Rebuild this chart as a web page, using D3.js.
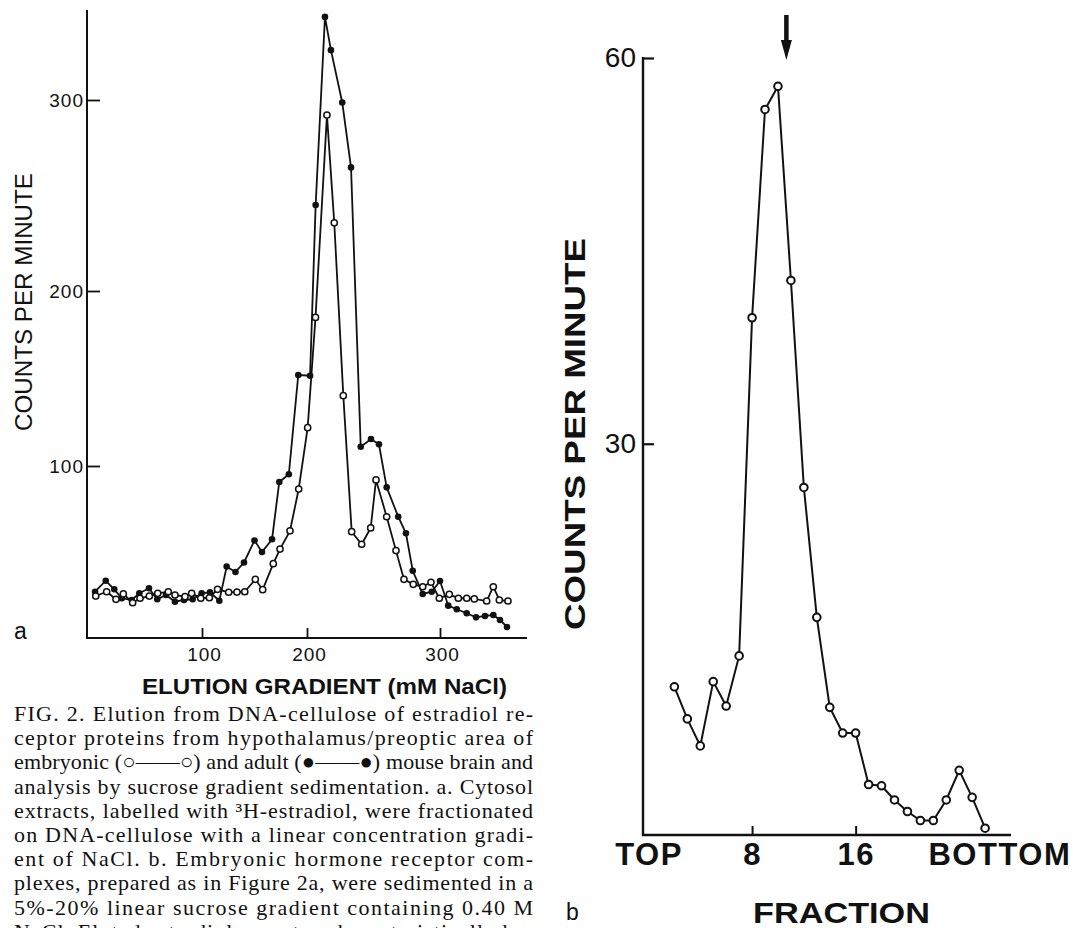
<!DOCTYPE html>
<html><head><meta charset="utf-8">
<title>Fig. 2 - estradiol receptor elution</title>
<script src="https://d3js.org/d3.v7.min.js"></script>
<style>
  body { margin: 0; background: #fff; }
  svg text { font-family: "Liberation Sans", Arial, sans-serif; fill: #111; }
  .caption { font-family: "Liberation Serif", "Times New Roman", serif; font-size: 22px; }
</style>
</head>
<body>
<svg id="fig" width="1077" height="928"></svg>

<script>
// ---- panel a: elution from DNA-cellulose (mM NaCl vs counts per minute) ----
const gradientEmbryonic = [7.6, 17.1, 25.2, 31.6, 39.7, 46.1, 54.2, 61.5, 70.7, 76.5, 85.2, 91.0, 98.9,
  107.0, 114.8, 125.4, 133.3, 140.7, 150.8, 157.8, 167.9, 174.3, 183.8, 192.1, 200.5, 206.4, 215.0,
  220.5, 227.3, 233.6, 241.1, 247.9, 251.9, 259.9, 266.9, 272.9, 279.9, 287.0, 293.2, 299.5, 307.0,
  313.8, 320.1, 325.8, 335.1, 340.1, 344.6, 351.1];
const countsEmbryonic = [24.4, 26.9, 22.5, 25.6, 20.5, 23.1, 24.4, 26.0, 26.9, 25.0, 24.0, 26.0, 23.1,
  23.4, 28.3, 26.6, 26.7, 26.9, 34.1, 28.1, 43.2, 51.7, 62.3, 86.6, 121.9, 184.9, 292.1,
  235.7, 140.2, 61.8, 54.5, 64.0, 91.9, 70.5, 50.8, 34.1, 31.2, 29.8, 32.4, 23.1, 25.4,
  23.1, 23.1, 22.7, 21.5, 29.8, 22.1, 21.5];

const gradientAdult = [7.0, 16.3, 23.7, 30.2, 38.9, 45.5, 53.9, 61.1, 68.7, 76.5, 84.3, 91.9, 99.7,
  107.6, 116.5, 123.5, 131.9, 140.0, 150.0, 157.1, 166.7, 173.6, 182.7, 191.7, 202.3, 206.5, 213.5,
  218.0, 226.5, 233.1, 240.4, 248.1, 254.1, 259.9, 268.6, 274.4, 279.5, 287.0, 293.8, 300.0, 306.2,
  312.6, 320.1, 327.1, 333.8, 340.1, 345.1, 350.4];
const countsAdult = [26.9, 33.3, 28.3, 23.1, 22.1, 26.0, 28.9, 22.5, 25.0, 21.1, 22.1, 22.5, 26.0,
  26.6, 21.7, 41.5, 38.4, 43.9, 56.7, 50.0, 57.4, 90.7, 95.2, 152.0, 151.6, 245.0, 343.5,
  326.1, 298.7, 264.7, 111.0, 115.4, 112.4, 87.6, 70.5, 60.9, 39.1, 25.6, 26.9, 33.1, 18.8,
  16.7, 14.4, 12.0, 12.8, 13.4, 10.5, 6.4];

const gradientTicks = [100, 200, 300];
const countTicksA = [100, 200, 300];

// ---- panel b: sucrose gradient sedimentation (fraction vs counts per minute) ----
const fractions = [2, 3, 4, 5, 6, 7, 8, 9, 10, 11, 12, 13, 14, 15, 16, 17, 18, 19, 20, 21, 22, 23, 24, 25, 26];
const fractionCounts = [11.1, 8.6, 6.5, 11.5, 9.6, 13.5, 39.8, 56.0, 57.8, 42.7, 26.6, 16.5, 9.5,
  7.5, 7.5, 3.5, 3.4, 2.3, 1.4, 0.7, 0.7, 2.3, 4.6, 2.5, 0.1];
const fractionTicks = [0, 8, 16, 27.1];
const fractionTickLabels = ["TOP", "8", "16", "BOTTOM"];
const countTicksB = [30, 60];
const arrowFraction = 10.65;

const captionLines = [
  "FIG. 2. Elution from DNA-cellulose of estradiol re-",
  "ceptor proteins from hypothalamus/preoptic area of",
  "embryonic (\u25CB\u2014\u2014\u25CB) and adult (\u25CF\u2014\u2014\u25CF) mouse brain and",
  "analysis by sucrose gradient sedimentation. a. Cytosol",
  "extracts, labelled with \u00B3H-estradiol, were fractionated",
  "on DNA-cellulose with a linear concentration gradi-",
  "ent of NaCl. b. Embryonic hormone receptor com-",
  "plexes, prepared as in Figure 2a, were sedimented in a",
  "5%-20% linear sucrose gradient containing 0.40 M",
  "NaCl. Eluted estradiol receptor characteristically be-"
];

const svg = d3.select("#fig");
const ink = "#111";

// ============ panel a ============
// the printed axis ticks are not evenly spaced, so the scales are piecewise
let xA = d3.scaleLinear().domain([0, 100, 200, 300, 400]).range([87, 202, 307, 440, 573]);
let yA = d3.scaleLinear().domain([0, 100, 200, 300, 400]).range([638, 466, 291, 100, -91]);

let gA = svg.append("g");

gA.append("line").attr("x1", 87).attr("x2", 87).attr("y1", 10).attr("y2", 639)
    .attr("stroke", ink).attr("stroke-width", 2);
gA.append("line").attr("x1", 86).attr("x2", 527).attr("y1", 638).attr("y2", 638)
    .attr("stroke", ink).attr("stroke-width", 2);

let yAxisA = gA.append("g").attr("transform", "translate(87,0)")
    .call(d3.axisLeft(yA).tickValues(countTicksA).tickSize(-13).tickPadding(3));
let xAxisA = gA.append("g").attr("transform", "translate(0,638)")
    .call(d3.axisBottom(xA).tickValues(gradientTicks).tickSize(-10).tickPadding(10));

[yAxisA, xAxisA].forEach(ax => {
  ax.select(".domain").remove();
  ax.selectAll("line").attr("stroke", ink).attr("stroke-width", 1.8);
  ax.selectAll("text").attr("font-size", 19).attr("letter-spacing", 1)
      .style("font-family", "'Liberation Sans', Arial, sans-serif").attr("fill", ink);
});
xAxisA.selectAll("text").attr("dx", 2);

let lineA = d3.line().x(d => xA(d[0])).y(d => yA(d[1]));
let embryonic = gradientEmbryonic.map((g, i) => [g, countsEmbryonic[i]]);
let adult = gradientAdult.map((g, i) => [g, countsAdult[i]]);

[adult, embryonic].forEach(series => {
  gA.append("path").datum(series).attr("d", lineA)
      .attr("fill", "none").attr("stroke", ink).attr("stroke-width", 1.8);
});
gA.selectAll(".adult").data(adult).join("circle").attr("class", "adult")
    .attr("cx", d => xA(d[0])).attr("cy", d => yA(d[1])).attr("r", 3.3)
    .attr("fill", ink);
gA.selectAll(".embryo").data(embryonic).join("circle").attr("class", "embryo")
    .attr("cx", d => xA(d[0])).attr("cy", d => yA(d[1])).attr("r", 3.1)
    .attr("fill", "#fff").attr("stroke", ink).attr("stroke-width", 1.5);

gA.append("text").text("COUNTS PER MINUTE")
    .attr("transform", "translate(32,302) rotate(-90)")
    .attr("text-anchor", "middle").attr("font-size", 23)
    .attr("textLength", 258).attr("lengthAdjust", "spacingAndGlyphs");
gA.append("text").text("ELUTION GRADIENT (mM NaCl)")
    .attr("x", 142).attr("y", 694).attr("font-size", 22).attr("font-weight", "bold")
    .attr("textLength", 365).attr("lengthAdjust", "spacingAndGlyphs");
gA.append("text").text("a").attr("x", 14).attr("y", 639).attr("font-size", 23);

// caption, justified like the printed column (the last line runs off the page, as in the print)
svg.append("g").selectAll("text").data(captionLines).join("text")
    .attr("class", "caption")
    .attr("x", 14).attr("y", (d, i) => 721 + i * 24.2)
    .attr("textLength", 519).attr("lengthAdjust", "spacing")
    .text(d => d);

// ============ panel b ============
let xB = d3.scaleLinear().domain([0, 28]).range([648.5, 1011]);
let yB = d3.scaleLinear().domain([0, 60]).range([829.5, 58]);
let gB = svg.append("g");

gB.append("line").attr("x1", 643).attr("x2", 643).attr("y1", yB(60) - 1).attr("y2", 836)
    .attr("stroke", ink).attr("stroke-width", 2.4);
gB.append("line").attr("x1", 642).attr("x2", xB(28)).attr("y1", 835).attr("y2", 835)
    .attr("stroke", ink).attr("stroke-width", 2.4);

let yAxisB = gB.append("g").attr("transform", "translate(643,0)")
    .call(d3.axisLeft(yB).tickValues(countTicksB).tickSize(-11).tickPadding(7));
let xAxisB = gB.append("g").attr("transform", "translate(0,835)")
    .call(d3.axisBottom(xB).tickValues(fractionTicks).tickSize(-9).tickPadding(8)
      .tickFormat((d, i) => fractionTickLabels[i]));

yAxisB.select(".domain").remove();
xAxisB.select(".domain").remove();
yAxisB.selectAll("line").attr("stroke", ink).attr("stroke-width", 2.2);
yAxisB.selectAll("text").attr("font-size", 28).attr("fill", ink)
    .style("font-family", "'Liberation Sans', Arial, sans-serif");
xAxisB.selectAll("line").attr("stroke", ink).attr("stroke-width", 2)
    .attr("display", (d, i) => (i === 0 || i === fractionTicks.length - 1) ? "none" : null);
xAxisB.selectAll("text").attr("font-size", 31).attr("font-weight", "bold")
    .attr("letter-spacing", 1.5).attr("fill", ink)
    .style("font-family", "'Liberation Sans', Arial, sans-serif");

let lineB = d3.line().x((d, i) => xB(fractions[i])).y(d => yB(d));
gB.append("path").datum(fractionCounts).attr("d", lineB)
    .attr("fill", "none").attr("stroke", ink).attr("stroke-width", 2);
gB.selectAll(".frac").data(fractionCounts).join("circle").attr("class", "frac")
    .attr("cx", (d, i) => xB(fractions[i])).attr("cy", d => yB(d)).attr("r", 3.8)
    .attr("fill", "#fff").attr("stroke", ink).attr("stroke-width", 2);

// arrow marking the peak position
let ax = xB(arrowFraction);
gB.append("line").attr("x1", ax).attr("x2", ax).attr("y1", 15).attr("y2", 44)
    .attr("stroke", ink).attr("stroke-width", 4.5);
gB.append("path").attr("d", `M${ax - 5.5},40 L${ax + 5.5},40 L${ax},60 Z`).attr("fill", ink);

gB.append("text").text("COUNTS PER MINUTE")
    .attr("transform", "translate(585,434) rotate(-90)")
    .attr("text-anchor", "middle").attr("font-size", 30).attr("font-weight", "bold")
    .attr("textLength", 392).attr("lengthAdjust", "spacingAndGlyphs");
gB.append("text").text("FRACTION")
    .attr("x", 753).attr("y", 923).attr("font-size", 30).attr("font-weight", "bold")
    .attr("textLength", 177).attr("lengthAdjust", "spacingAndGlyphs");
gB.append("text").text("b").attr("x", 566).attr("y", 920).attr("font-size", 23);
</script>
</body>
</html>
